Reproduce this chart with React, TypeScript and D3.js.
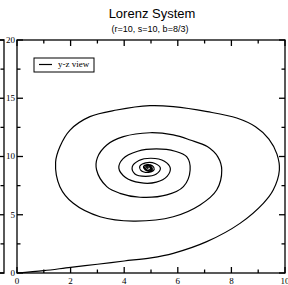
import * as d3 from 'd3'

const title = 'Lorenz System'
const subtitle = '(r=10, s=10, b=8/3)'
const legendLabel = 'y-z view'

const xTicks = [0, 2, 4, 6, 8, 10]
const xMinor = [1, 3, 5, 7, 9]
const yTicks = [0, 5, 10, 15, 20]
const yMinor = [2.5, 7.5, 12.5, 17.5]

// trajectory, in (y, z)
const trajY = [
  0, 1.0, 2.0, 3.0, 4.0, 5.0, 5.83, 7.08, 8.32, 9.19,
  9.56, 9.79, 9.7, 9.4, 8.9, 8.2, 7.1, 5.83, 4.96, 3.72, 2.72,
  1.98, 1.6, 1.44, 1.6, 2.1, 3.1, 4.34, 5.83, 6.83, 7.45,
  7.64, 7.5, 7.1, 6.46, 5.83, 4.96, 3.97, 3.35, 3.0, 2.97,
  3.35, 3.84, 4.59, 5.59, 6.21, 6.46, 6.33,
  5.9, 5.2, 4.5, 3.95, 3.8, 4.05, 4.6, 5.2, 5.6, 5.72,
  5.5, 5.0, 4.55, 4.3, 4.4, 4.8, 5.2, 5.35, 5.15, 4.8,
  4.58, 4.65, 4.95, 5.12, 5.05, 4.85, 4.72, 4.78, 4.95, 5.05,
  5.0, 4.85, 4.76, 4.82, 4.96, 5.02, 4.95, 4.84, 4.82, 4.92, 4.98, 4.92, 4.87, 4.9,
]
const trajZ = [
  0, 0.2, 0.49, 0.75, 1.03, 1.3, 1.69, 2.69, 4.26, 5.98,
  7.12, 8.84, 10.2, 11.5, 12.55, 13.3, 13.85, 14.28, 14.36, 13.99, 13.42,
  12.27, 10.84, 9.5, 7.41, 5.98, 4.83, 4.46, 4.83, 5.84, 7.12,
  8.84, 9.95, 10.85, 11.42, 11.85, 12.04, 11.7, 10.99, 9.9, 8.84,
  7.41, 6.84, 6.5, 6.7, 7.41, 8.84, 9.98,
  10.45, 10.65, 10.45, 9.8, 9.0, 8.2, 7.75, 7.8, 8.3, 9.0,
  9.6, 9.85, 9.65, 9.1, 8.5, 8.3, 8.5, 9.0, 9.4, 9.45,
  9.15, 8.75, 8.65, 8.9, 9.2, 9.3, 9.15, 8.85, 8.72, 8.85,
  9.15, 9.25, 9.05, 8.82, 8.78, 9.0, 9.18, 9.12, 8.9, 8.84, 9.0, 9.1, 9.0, 8.95,
]

const W = 288
const H = 285
const left = 17
const right = 285
const top = 40
const bottom = 273

export default function App() {
  const x = d3.scaleLinear().domain([0, 10]).range([left, right])
  const y = d3.scaleLinear().domain([0, 20]).range([bottom, top])

  const pts: [number, number][] = trajY.map((v, i) => [v, trajZ[i]])
  const line = d3.line<[number, number]>()
    .x(d => x(d[0]))
    .y(d => y(d[1]))
    .curve(d3.curveCatmullRom.alpha(0.5))

  const serif = 'Liberation Serif, Times New Roman, serif'
  const sans = 'Liberation Sans, Arial, sans-serif'
  const major = 6
  const minor = 3.5
  const edgeX = 4

  return (
    <svg width={W} height={H} style={{ position: 'absolute', left: 0, top: 0 }}>
      <rect width={W} height={H} fill="#fff" />

      {/* edge of the neighbouring panel */}
      <g stroke="#000" strokeWidth={1.3} fill="none">
        <path d={`M0,${top}H${edgeX}V${bottom}H0`} />
        {yTicks.map(t => <line key={'e' + t} x1={edgeX} x2={edgeX - major} y1={y(t)} y2={y(t)} />)}
        {yMinor.map(t => <line key={'em' + t} x1={edgeX} x2={edgeX - minor} y1={y(t)} y2={y(t)} />)}
      </g>

      <text x={152} y={17.6} textAnchor="middle" fontFamily={sans} fontSize={13}>{title}</text>
      <text x={150} y={32} textAnchor="middle" fontFamily={sans} fontSize={9}>{subtitle}</text>

      <path d={line(pts) ?? ''} fill="none" stroke="#000" strokeWidth={1.2} />

      <g stroke="#000" strokeWidth={1.3} fill="none">
        <rect x={left} y={top} width={right - left} height={bottom - top} />
        {xTicks.map(t => (
          <g key={'x' + t}>
            <line x1={x(t)} x2={x(t)} y1={bottom} y2={bottom - major} />
            <line x1={x(t)} x2={x(t)} y1={top} y2={top + major} />
          </g>
        ))}
        {xMinor.map(t => (
          <g key={'xm' + t}>
            <line x1={x(t)} x2={x(t)} y1={bottom} y2={bottom - minor} />
            <line x1={x(t)} x2={x(t)} y1={top} y2={top + minor} />
          </g>
        ))}
        {yTicks.map(t => (
          <g key={'y' + t}>
            <line x1={left} x2={left + major} y1={y(t)} y2={y(t)} />
            <line x1={right} x2={right - major} y1={y(t)} y2={y(t)} />
          </g>
        ))}
        {yMinor.map(t => (
          <g key={'ym' + t}>
            <line x1={left} x2={left + minor} y1={y(t)} y2={y(t)} />
            <line x1={right} x2={right - minor} y1={y(t)} y2={y(t)} />
          </g>
        ))}
      </g>

      <g fontFamily={serif} fontSize={9} fill="#000">
        {xTicks.map(t => (
          <text key={'xl' + t} x={x(t)} y={283.5} textAnchor="middle">{t}</text>
        ))}
        {yTicks.map(t => (
          <text key={'yl' + t} x={left - 2} y={y(t)} dy="0.33em" textAnchor="end">{t}</text>
        ))}
      </g>

      <g>
        <rect x={34} y={58} width={60} height={14} fill="#fff" stroke="#000" strokeWidth={1} />
        <line x1={39} x2={52} y1={64.5} y2={64.5} stroke="#000" strokeWidth={1.2} />
        <text x={58} y={66.5} fontFamily={serif} fontSize={9}>{legendLabel}</text>
      </g>
    </svg>
  )
}
